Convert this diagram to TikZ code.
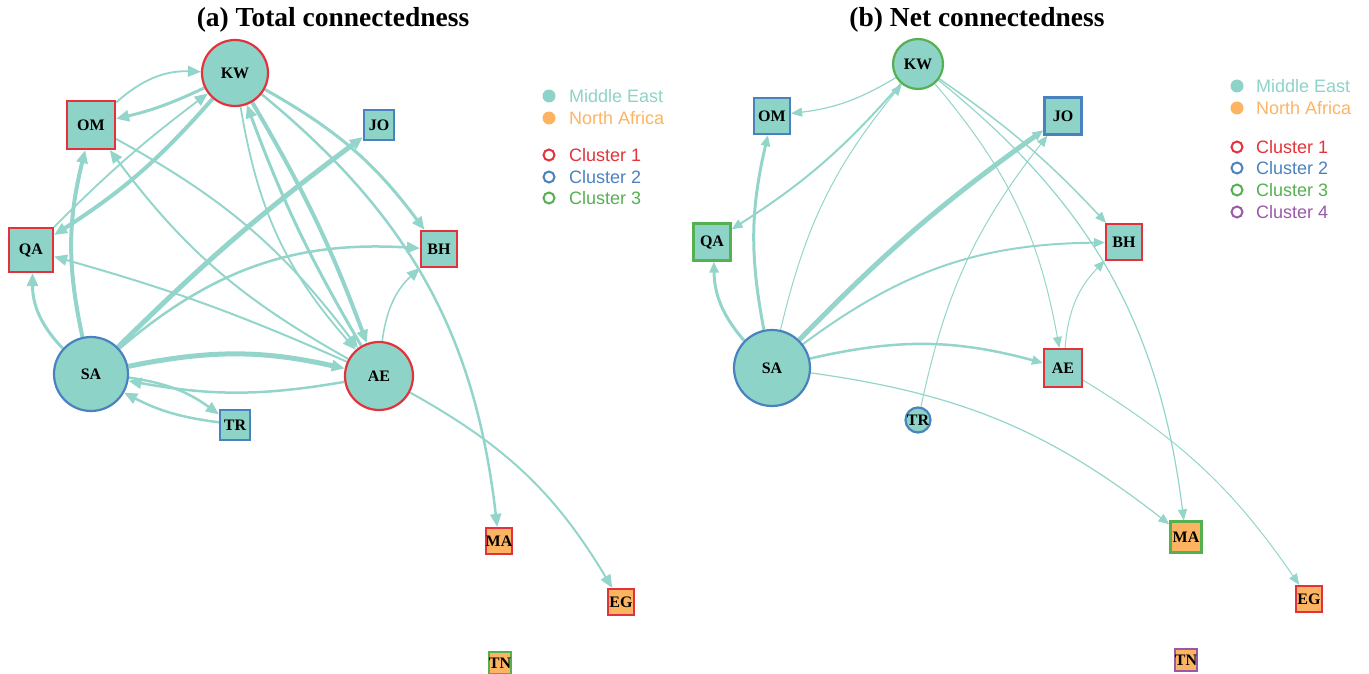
\documentclass[tikz,border=0pt]{standalone}
\usepackage{fontspec}
\setmainfont{Liberation Serif}
\newfontfamily\legfont{Liberation Sans}
\usetikzlibrary{arrows.meta}
\pgfdeclarelayer{bg}
\pgfsetlayers{bg,main}
\definecolor{mecol}{HTML}{8DD3C7}
\definecolor{nacol}{HTML}{FDB462}
\definecolor{edgecol}{HTML}{93D5CA}
\definecolor{cone}{HTML}{E3323B}
\definecolor{ctwo}{HTML}{4A82C0}
\definecolor{cthree}{HTML}{55B050}
\definecolor{cfour}{HTML}{9A58A8}
\tikzset{
  nd/.style={draw, line width=2.2pt, inner sep=0pt, text=black, font=\fontsize{16}{16}\selectfont\bfseries},
  cnode/.style={nd, circle, fill=mecol},
  snode/.style={nd, rectangle, fill=mecol},
  anode/.style={nd, rectangle, fill=nacol},
  ea/.style={draw=edgecol, line width=2pt, -{Triangle[length=13pt,width=11pt]}},
  eb/.style={draw=edgecol, line width=1pt, -{Triangle[length=11pt,width=9pt]}},
  ttl/.style={anchor=base, font=\fontsize{27.5}{27.5}\selectfont\bfseries},
  leg/.style={anchor=west, inner sep=0pt, font=\legfont\fontsize{18}{18}\selectfont},
  legdot/.style={inner sep=0pt, circle, minimum size=13pt},
  legring/.style={inner sep=0pt, circle, line width=2pt, minimum size=11pt},
}
\begin{document}
\begin{tikzpicture}[x=1pt,y=1pt]
\useasboundingbox (0,0) rectangle (1369,-674);
% titles
\node[ttl] (ta) at (333,-27) {(a) Total connectedness};
\node[ttl] (tb) at (977,-27) {(b) Net connectedness};
% ---------- panel a nodes
\node[cnode, draw=cone, minimum size=66pt] (aKW) at (235,-73) {KW};
\node[snode, draw=cone, minimum size=48pt] (aOM) at (91,-125) {OM};
\node[snode, draw=ctwo, minimum size=30pt] (aJO) at (379,-125) {JO};
\node[snode, draw=cone, minimum size=44pt] (aQA) at (31,-250) {QA};
\node[snode, draw=cone, minimum size=36pt] (aBH) at (439,-249) {BH};
\node[cnode, draw=ctwo, minimum size=74pt] (aSA) at (91,-374) {SA};
\node[cnode, draw=cone, minimum size=68pt] (aAE) at (379,-376) {AE};
\node[snode, draw=ctwo, minimum size=30pt] (aTR) at (235,-425) {TR};
\node[anode, draw=cone, minimum size=26pt] (aMA) at (499,-541) {MA};
\node[anode, draw=cone, minimum size=26pt] (aEG) at (621,-602) {EG};
\node[anode, draw=cthree, minimum size=22pt] (aTN) at (500,-663) {TN};
% ---------- panel b nodes
\node[cnode, draw=cthree, minimum size=50pt] (bKW) at (918,-64) {KW};
\node[snode, draw=ctwo, minimum size=36pt] (bOM) at (772,-116) {OM};
\node[snode, draw=ctwo, minimum size=37pt] (bJO) at (1063,-116) {JO};
\node[snode, draw=cthree, minimum size=37pt] (bQA) at (712,-242) {QA};
\node[snode, draw=cone, minimum size=36pt] (bBH) at (1124,-242) {BH};
\node[cnode, draw=ctwo, minimum size=76pt] (bSA) at (772,-368) {SA};
\node[snode, draw=cone, minimum size=38pt] (bAE) at (1063,-368) {AE};
\node[cnode, draw=ctwo, minimum size=25pt] (bTR) at (918,-420) {TR};
\node[anode, draw=cthree, minimum size=31pt] (bMA) at (1186,-537) {MA};
\node[anode, draw=cone, minimum size=26pt] (bEG) at (1309,-599) {EG};
\node[anode, draw=cfour, minimum size=22pt] (bTN) at (1186,-660) {TN};
\begin{pgfonlayer}{bg}
% ---------- panel a edges
\draw[ea, line width=3pt] (aKW) to[bend left=6] (aOM);
\draw[ea, line width=1.8pt] (aOM) to[bend left=22] (aKW);
\draw[ea, line width=4pt] (aKW) to[bend left=8] (aQA);
\draw[ea, line width=1.8pt] (aQA) to[bend left=4] (aKW);
\draw[ea, line width=4pt] (aSA) to[bend left=13] (aOM);
\draw[ea, line width=3pt] (aSA) to[bend left=22] (aQA);
\draw[ea, line width=5pt] (aSA) to[bend left=4] (aJO);
\draw[ea, line width=2.5pt] (aSA) to[bend left=22] (aBH);
\draw[ea, line width=5pt] (aSA) to[bend left=12] (aAE);
\draw[ea, line width=2.5pt] (aAE) to[bend left=10] (aSA);
\draw[ea, line width=2.5pt] (aSA) to[bend left=14] (aTR);
\draw[ea, line width=2.5pt] (aTR) to[bend left=10] (aSA);
\draw[ea, line width=2pt] (aOM) to[bend left=12] (aAE);
\draw[ea, line width=2pt] (aAE) to[bend left=12] (aOM);
\draw[ea, line width=4pt] (aKW) to[bend left=5] (aAE);
\draw[ea, line width=3pt] (aAE) to[bend left=5] (aKW);
\draw[ea, line width=1.8pt] (aKW) to[bend right=16] (aAE);
\draw[ea, line width=3pt] (aKW) to[bend left=12] (aBH);
\draw[ea, line width=2.5pt] (aKW) to[bend left=22] (aMA);
\draw[ea, line width=1.5pt] (aAE) to[bend left=20] (aBH);
\draw[ea, line width=2pt] (aAE) to[bend right=4] (aQA);
\draw[ea, line width=2pt] (aAE) to[bend left=15] (aEG);
% ---------- panel b edges
\draw[eb, line width=1.2pt] (bKW) to[bend left=12] (bOM);
\draw[eb, line width=2pt] (bKW) to[bend left=8] (bQA);
\draw[eb, line width=1pt] (bSA) to[bend left=13] (bKW);
\draw[eb, line width=3pt] (bSA) to[bend left=12] (bOM);
\draw[eb, line width=3pt] (bSA) to[bend left=20] (bQA);
\draw[eb, line width=5pt] (bSA) to[bend left=5] (bJO);
\draw[eb, line width=2pt] (bSA) to[bend left=18] (bBH);
\draw[eb, line width=2.5pt] (bSA) to[bend left=14] (bAE);
\draw[eb, line width=1.2pt] (bSA) to[bend left=15] (bMA);
\draw[eb, line width=1pt] (bTR) to[bend left=13] (bJO);
\draw[eb, line width=1.5pt] (bKW) to[bend left=6] (bBH);
\draw[eb, line width=1pt] (bKW) to[bend left=15] (bAE);
\draw[eb, line width=1.2pt] (bKW) to[bend left=22] (bMA);
\draw[eb, line width=1pt] (bAE) to[bend left=20] (bBH);
\draw[eb, line width=1pt] (bAE) to[bend left=12] (bEG);
\end{pgfonlayer}
% ---------- legend a
\node[legdot, fill=mecol] (la1) at (549,-96) {};
\node[leg, text=mecol] (lt1) at (569,-96) {Middle East};
\node[legdot, fill=nacol] (la2) at (549,-118) {};
\node[leg, text=nacol] (lt2) at (569,-118) {North Africa};
\node[legring, draw=cone] (la3) at (549,-155) {};
\node[leg, text=cone] (lt3) at (569,-155) {Cluster 1};
\node[legring, draw=ctwo] (la4) at (549,-177) {};
\node[leg, text=ctwo] (lt4) at (569,-177) {Cluster 2};
\node[legring, draw=cthree] (la5) at (549,-198) {};
\node[leg, text=cthree] (lt5) at (569,-198) {Cluster 3};
% ---------- legend b
\node[legdot, fill=mecol] (lb1) at (1237,-86) {};
\node[leg, text=mecol] (lu1) at (1256,-86) {Middle East};
\node[legdot, fill=nacol] (lb2) at (1237,-108) {};
\node[leg, text=nacol] (lu2) at (1256,-108) {North Africa};
\node[legring, draw=cone] (lb3) at (1237,-147) {};
\node[leg, text=cone] (lu3) at (1256,-147) {Cluster 1};
\node[legring, draw=ctwo] (lb4) at (1237,-168) {};
\node[leg, text=ctwo] (lu4) at (1256,-168) {Cluster 2};
\node[legring, draw=cthree] (lb5) at (1237,-190) {};
\node[leg, text=cthree] (lu5) at (1256,-190) {Cluster 3};
\node[legring, draw=cfour] (lb6) at (1237,-212) {};
\node[leg, text=cfour] (lu6) at (1256,-212) {Cluster 4};
\end{tikzpicture}
\end{document}
